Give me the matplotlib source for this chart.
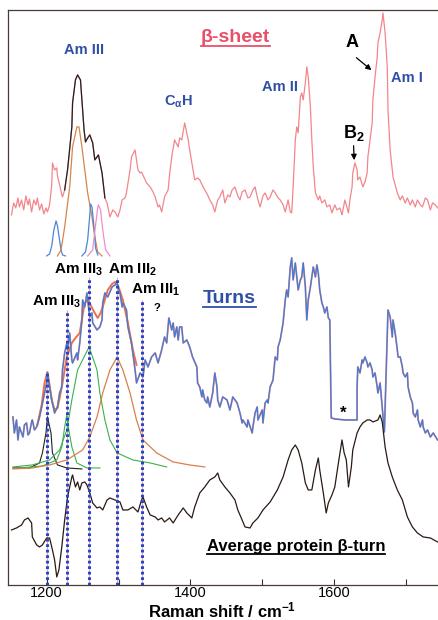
import matplotlib
matplotlib.use('Agg')
import matplotlib.pyplot as plt
from matplotlib.lines import Line2D

plt.rcParams['font.family'] = ['Liberation Sans', 'DejaVu Sans']
plt.rcParams['mathtext.fontset'] = 'custom'
plt.rcParams['mathtext.rm'] = 'Liberation Sans'
plt.rcParams['mathtext.bf'] = 'Liberation Sans:bold'
plt.rcParams['mathtext.it'] = 'Liberation Sans:italic'
plt.rcParams['mathtext.default'] = 'bf'

# beta-sheet spectrum (top, pink)
sheetX = [1151,1154,1157,1160,1162,1165,1168,1171,1174,1176,1179,1182,1185,1187,1190,1193,1196,1199,1201,1204,
          1207,1208,1211,1214,1215,1218,1221,1222,1225,1229,1232,1235,1236,1240,1243,1247,1250,1252,1254,1257,
          1260,1264,1267,1270,1272,1277,1281,1284,1288,1292,1295,1299,1302,1305,1309,1311,1316,1318,1323,1325,
          1327,1330,1332,1337,1339,1344,1348,1351,1355,1357,1360,1364,1369,1371,1374,1378,1383,1385,1388,1392,
          1397,1399,1402,1406,1410,1413,1417,1420,1424,1427,1431,1434,1438,1441,1445,1448,1452,1455,1458,1462,
          1466,1469,1472,1476,1480,1483,1487,1490,1494,1497,1501,1504,1508,1511,1515,1518,1522,1525,1529,1532,
          1536,1539,1541,1543,1546,1548,1550,1553,1555,1557,1560,1562,1564,1567,1569,1571,1574,1578,1580,1583,
          1587,1590,1594,1597,1601,1604,1608,1611,1615,1620,1622,1625,1626,1629,1632,1633,1636,1640,1643,1646,
          1647,1650,1653,1654,1657,1660,1661,1664,1667,1668,1671,1674,1675,1678,1682,1685,1688,1692,1695,1699,
          1702,1706,1709,1713,1716,1720,1723,1727,1730,1734,1737,1741,1744]
sheetY = [370,382,377,387,378,385,375,389,380,386,373,385,380,387,375,381,371,377,373,380,
          400,422,415,417,409,400,390,388,395,415,435,458,482,505,510,505,475,455,443,447,
          450,442,425,428,430,412,387,382,368,375,373,368,375,385,387,392,415,428,435,425,
          415,412,413,405,402,398,393,388,378,380,373,388,395,410,428,445,438,447,445,462,
          445,435,422,405,407,405,399,395,390,385,380,373,385,388,395,382,390,388,395,398,
          389,385,393,395,387,388,395,398,385,378,389,392,385,388,395,392,387,385,380,373,
          385,373,372,398,445,458,452,488,492,485,502,518,508,478,445,418,392,385,389,382,
          385,378,380,372,380,375,377,370,385,372,385,398,412,422,415,405,408,398,403,412,
          428,445,462,485,508,528,542,552,565,572,552,518,475,435,408,400,392,385,389,382,
          387,380,385,378,385,380,378,387,385,375,382,380,377]

# black overlay on the beta-sheet Am III band
amX = [1225,1229,1235,1236,1240,1243,1247,1250,1252,1254,1257,1260,1264,1267,1270,1272,1277,1281]
amY = [395,415,458,482,505,510,505,475,455,443,447,450,442,425,428,430,412,387]

# beta-sheet Am III component bands
b1X = [1200,1204,1207,1210,1213,1215,1217,1220,1222,1226]
b1Y = [329,331,339,355,364,359,349,335,330,329]
o1X = [1215,1220,1225,1232,1236,1242,1245,1249,1253,1257,1263,1267,1271,1277]
o1Y = [329,335,358,398,438,458,458,438,415,392,368,348,333,329]
b2X = [1249,1254,1257,1260,1261,1263,1266,1268,1271]
b2Y = [329,333,345,370,381,378,357,337,330]
p1X = [1257,1264,1268,1271,1272,1275,1278,1282,1288]
p1Y = [329,335,360,377,380,375,355,335,329]

# turns spectrum (middle, blue)
turnsX = [1153,1155,1158,1160,1162,1167,1169,1172,1174,1176,1179,1180,1183,1186,1190,1193,1197,1200,1201,1204,
          1207,1211,1215,1218,1221,1222,1225,1228,1229,1232,1235,1236,1242,1243,1246,1249,1250,1253,1256,1257,
          1260,1263,1264,1270,1274,1277,1278,1281,1285,1291,1295,1298,1299,1302,1305,1306,1311,1313,1318,1323,
          1325,1330,1334,1337,1341,1346,1351,1355,1360,1364,1367,1370,1374,1376,1378,1381,1383,1385,1388,1390,
          1395,1399,1403,1409,1410,1413,1416,1417,1420,1423,1424,1427,1431,1434,1437,1438,1441,1445,1451,1455,
          1459,1465,1469,1472,1473,1479,1480,1486,1487,1490,1493,1494,1500,1501,1504,1507,1508,1511,1515,1518,
          1521,1522,1525,1528,1529,1532,1534,1536,1539,1541,1543,1546,1548,1550,1553,1555,1557,1560,1562,1564,
          1567,1569,1571,1574,1576,1578,1580,1583,1585,1587,1590,1592,1594,1596,1601,1615,1632,1632,1633,1636,
          1639,1640,1643,1646,1647,1650,1653,1654,1657,1660,1661,1664,1667,1670,1675,1678,1681,1682,1685,1688,
          1689,1692,1695,1696,1699,1702,1703,1706,1709,1710,1713,1716,1717,1720,1723,1724,1727,1730,1734,1738,
          1744]
turnsY = [168,152,165,145,158,148,160,162,150,152,163,165,155,158,168,178,192,202,212,198,
          185,172,178,192,198,215,232,242,235,252,225,222,232,225,242,265,285,278,292,285,
          268,272,262,255,258,265,282,292,288,298,300,302,298,292,278,282,275,258,242,215,
          202,212,208,225,218,228,232,222,235,248,242,267,255,262,248,258,245,258,258,242,
          245,238,228,218,202,198,188,195,185,182,188,178,192,212,198,185,178,188,185,175,
          188,182,172,162,165,158,165,152,158,172,178,165,175,162,182,185,182,198,205,228,
          225,238,245,258,262,285,295,288,318,327,305,322,308,295,305,308,322,298,265,285,
          298,308,318,308,320,312,295,282,278,272,278,267,265,167,166,165,165,198,218,212,
          225,222,228,222,218,222,215,208,212,198,192,202,178,153,275,268,248,265,252,235,
          228,228,218,212,208,212,198,188,182,172,168,175,165,158,165,158,152,155,148,152,
          145]

# fitted sum on the turns Am III region
sumX = [1187,1193,1197,1201,1204,1207,1211,1215,1218,1222,1228,1235,1240,1246,1250,1253,1257,1261,1266,1271,
        1275,1278,1285,1291,1295,1299,1306,1313,1320,1325]
sumY = [160,180,202,213,200,185,175,177,187,202,228,242,247,252,270,282,285,280,273,267,
        272,278,295,301,303,300,285,262,235,220]

# turns Am III component bands
kX = [1153,1176,1190,1194,1199,1201,1206,1208,1215,1228,1249]
kY = [117,117,122,132,152,168,152,132,120,117,116]
g1X = [1162,1194,1214,1221,1225,1228,1229,1235,1242,1256,1274]
g1Y = [117,119,125,138,158,170,162,138,122,117,117]
g2X = [1153,1180,1204,1218,1228,1235,1243,1259,1270,1274,1281,1288,1298,1320,1344,1367]
g2Y = [118,120,125,135,155,185,215,238,215,192,165,145,132,125,122,118]
o2X = [1153,1180,1204,1228,1250,1260,1270,1278,1288,1298,1306,1316,1325,1334,1353,1376,1399,1420]
o2Y = [116,117,120,125,135,148,168,192,215,228,215,192,165,145,132,123,120,118]

# average protein beta-turn spectrum (bottom, black)
avgX = [1151,1158,1165,1169,1174,1179,1180,1186,1190,1194,1200,1204,1208,1211,1214,1217,1221,1225,1229,1235,
        1236,1240,1243,1246,1249,1253,1256,1260,1264,1270,1274,1278,1284,1288,1295,1302,1306,1313,1320,1327,
        1332,1334,1339,1344,1351,1355,1360,1364,1371,1376,1383,1390,1395,1402,1406,1413,1420,1427,1434,1438,
        1441,1448,1455,1462,1466,1472,1476,1483,1487,1494,1501,1511,1521,1529,1536,1541,1546,1550,1555,1560,
        1564,1569,1574,1578,1580,1585,1589,1592,1597,1601,1606,1611,1614,1617,1620,1624,1626,1632,1636,1640,
        1646,1650,1654,1661,1664,1667,1671,1675,1681,1688,1695,1702,1709,1716,1724,1734,1744]
avgY = [55,57,60,65,67,62,48,40,38,40,47,47,35,25,8,15,38,65,88,108,
        110,98,103,95,102,103,100,92,82,77,78,75,85,87,85,83,75,75,78,73,
        85,88,78,70,68,65,67,63,67,62,70,77,72,67,78,92,98,105,108,112,
        105,98,92,85,75,65,58,57,62,67,75,83,95,108,125,135,140,135,122,102,
        95,95,115,127,115,92,72,82,90,98,122,145,132,125,98,118,135,152,158,162,
        165,165,163,165,170,163,138,122,108,95,85,68,58,52,48,47,43]

# dotted band markers
dotX = [1201, 1228, 1259, 1298, 1332]
dotTop = [212, 275, 308, 308, 285]

fig = plt.figure(figsize=(4.39, 6.2), dpi=100)
ax = fig.add_axes([0.018, 0.0565, 0.982, 0.9275])

pink = '#f2868c'
blue = '#3d7ed6'
lblue = '#2e4fa6'

ax.vlines(dotX, 0, dotTop, colors='#f0a0a8', lw=0.8, zorder=1)
ax.vlines(dotX, 0, dotTop, colors='#2448c8', lw=2.2, linestyles=(0, (0.9, 0.9)), zorder=5)

ax.plot(sheetX, sheetY, color=pink, lw=0.9)
ax.plot(amX, amY, color='#222222', lw=0.9)
ax.plot(b1X, b1Y, color='#4a86d8', lw=0.9)
ax.plot(o1X, o1Y, color='#d8844c', lw=0.9)
ax.plot(b2X, b2Y, color='#4a86d8', lw=0.9)
ax.plot(p1X, p1Y, color='#f08cc8', lw=0.9)

ax.plot(turnsX, turnsY, color=pink, lw=1.3)
ax.plot(sumX, sumY, color='#e8704a', lw=1.4)
ax.plot(turnsX, turnsY, color=blue, lw=0.9)
ax.plot(kX, kY, color='#222222', lw=0.8)
ax.plot(g1X, g1Y, color='#3cb050', lw=0.8)
ax.plot(g2X, g2Y, color='#3cb050', lw=0.8)
ax.plot(o2X, o2Y, color='#d8804a', lw=0.9)

ax.plot(avgX, avgY, color='#2a1a14', lw=0.9)

ax.set_xlim(1146, 1746)
ax.set_ylim(0, 575)
ax.set_yticks([])
ax.set_xticks([1200, 1400, 1600])
ax.set_xticks([1300, 1500, 1700], minor=True)
ax.tick_params(axis='x', which='both', direction='in', length=4, width=0.8, color='#333333')
ax.tick_params(axis='x', which='major', labelsize=10.5, pad=0.5)
ax.spines['right'].set_visible(False)
for s in ['top', 'left', 'bottom']:
    ax.spines[s].set_color('#4a3a34')
    ax.spines[s].set_linewidth(0.9)
ax.set_xlabel('Raman shift / cm$^{-1}$', fontsize=12, fontweight='bold', va='baseline')
ax.xaxis.set_label_coords(0.497, -0.0557)

def label(x, y, s, size=10.5, color='black', **kw):
    return ax.text(x, y, s, fontsize=size, color=color, fontweight='bold', ha='center', va='center', **kw)

tSheet = label(1463, 547, 'β-sheet', size=14, color='#e8506a')
label(1252, 535, 'Am III', color=lblue)
label(1383, 483, 'C$_{α}$H', color=lblue)
label(1525, 498, 'Am II', color=lblue)
label(1702, 507, 'Am I', color=lblue)
label(1625, 542, 'A', size=13)
label(1628, 452, 'B$_2$', size=13)
ax.annotate('', xy=(1655, 513), xytext=(1628, 529),
            arrowprops=dict(arrowstyle='-|>', color='black', lw=0.9, mutation_scale=8))
ax.annotate('', xy=(1628, 422), xytext=(1627, 442),
            arrowprops=dict(arrowstyle='-|>', color='black', lw=0.9, mutation_scale=8))

label(1214, 283, 'Am III$_3$', size=11)
label(1245, 315, 'Am III$_3$', size=11)
label(1320, 315, 'Am III$_2$', size=11)
label(1351, 295, 'Am III$_1$', size=11)
label(1353, 277, '?', size=8)
tTurns = label(1454, 286, 'Turns', size=14, color=lblue)
label(1613, 172, '*', size=12)
tAvg = label(1547, 38, 'Average protein β-turn', size=12)

# underline the three spectrum titles
fig.canvas.draw()
for t in [tSheet, tTurns, tAvg]:
    bb = t.get_window_extent().transformed(fig.transFigure.inverted())
    fig.add_artist(Line2D([bb.x0, bb.x1], [bb.y0 + 0.001, bb.y0 + 0.001], transform=fig.transFigure,
                          color=t.get_color(), lw=1.3))

fig.savefig('out.png', dpi=100)
